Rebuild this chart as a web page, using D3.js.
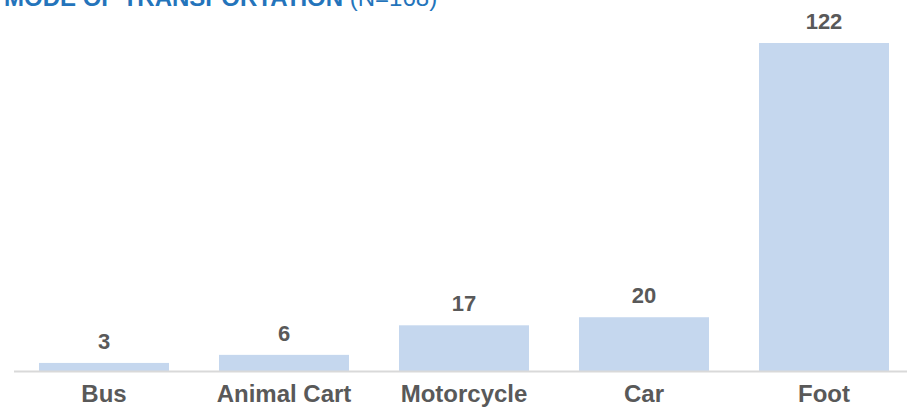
<!DOCTYPE html>
<html>
<head>
<meta charset="utf-8">
<script src="https://cdn.jsdelivr.net/npm/d3@7"></script>
<style>
  html, body { margin: 0; padding: 0; background: #fff; overflow: hidden; }
  svg { display: block; font-family: Arial, "Liberation Sans", sans-serif; }
</style>
</head>
<body>
<svg class="js-render-chart" width="907" height="408"></svg>
<script>
"use strict";

//data

const categories = ["Bus", "Animal Cart", "Motorcycle", "Car", "Foot"];
const counts = [3, 6, 17, 20, 122];
const titleMain = "MODE OF TRANSPORTATION";
const titleNote = " (N=168)";

//chart

const base = 371;

const chart = d3.select(".js-render-chart");

const x = d3.scaleBand()
  .domain(categories)
  .range([14, 914])
  .paddingInner(50 / 180)
  .paddingOuter(25 / 180);

const y = d3.scaleLinear()
  .domain([0, 122])
  .range([base, 43]);

//title (cut at the top, as in the source)

const title = chart.append("text")
  .attr("x", 4)
  .attr("y", 6)
  .attr("fill", "#2474bb")
  .style("font-size", "24px");

title.append("tspan").attr("font-weight", "bold").text(titleMain);
title.append("tspan").text(titleNote);

//bars

chart.append("g")
  .selectAll("rect")
  .data(counts)
  .enter()
  .append("rect")
  .attr("x", (d, i) => x(categories[i]))
  .attr("y", (d) => y(d))
  .attr("width", x.bandwidth())
  .attr("height", (d) => base - y(d))
  .attr("fill", "#c5d7ee");

//axis line

chart.append("line")
  .attr("x1", 14)
  .attr("x2", 914)
  .attr("y1", base + 0.5)
  .attr("y2", base + 0.5)
  .attr("stroke", "#d9d9d9")
  .attr("stroke-width", 2);

//value labels

chart.append("g")
  .selectAll("text")
  .data(counts)
  .enter()
  .append("text")
  .attr("x", (d, i) => x(categories[i]) + x.bandwidth() / 2)
  .attr("y", (d) => y(d) - 14)
  .attr("text-anchor", "middle")
  .attr("fill", "#595959")
  .attr("font-weight", "bold")
  .style("font-size", "22px")
  .text((d) => d);

//category labels

chart.append("g")
  .selectAll("text")
  .data(categories)
  .enter()
  .append("text")
  .attr("x", (d) => x(d) + x.bandwidth() / 2)
  .attr("y", 402)
  .attr("text-anchor", "middle")
  .attr("fill", "#595959")
  .attr("font-weight", "bold")
  .style("font-size", "24px")
  .text((d) => d);
</script>
</body>
</html>
